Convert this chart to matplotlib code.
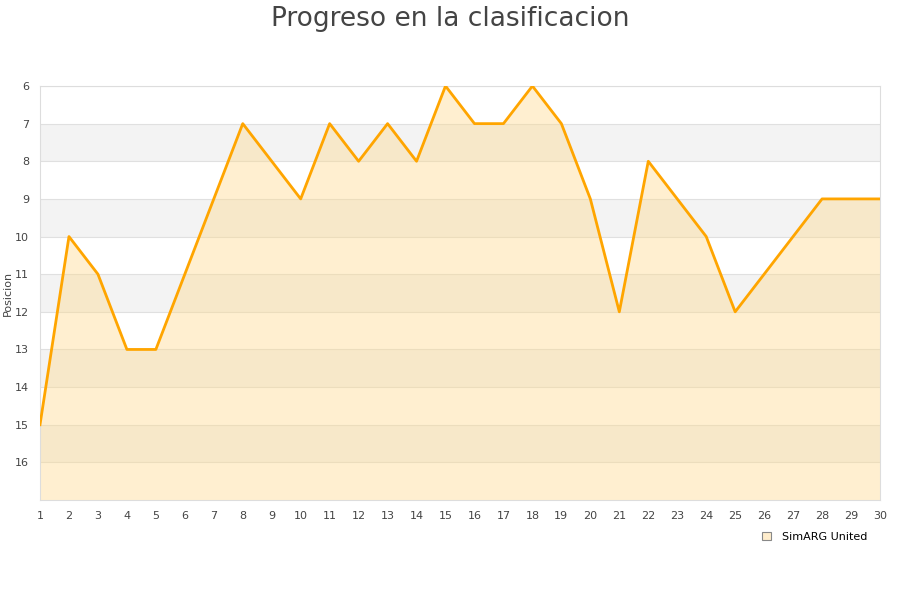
import numpy as np
import matplotlib.pyplot as plt
from matplotlib.patches import Patch

jornadas = list(range(1, 31))
posicion = [15, 10, 11, 13, 13, 11, 9, 7, 8, 9, 7, 8, 7, 8, 6,
            7, 7, 6, 7, 9, 12, 8, 9, 10, 12, 11, 10, 9, 9, 9]
equipo = "SimARG United"

fig = plt.figure(figsize=(9, 6), dpi=100)
ax = fig.add_axes([40/900, 1-500/600, 840/900, 414/600])

# bandas alternas
for y0 in range(7, 17, 2):
    ax.axhspan(y0, y0 + 1, color="#f3f3f3", zorder=0, lw=0)
for y in range(6, 17):
    ax.axhline(y, color="#e0e0e0", lw=0.8, zorder=1)

ax.fill_between(jornadas, posicion, 17, color="#ffd98a", alpha=0.4, lw=0, zorder=2)
ax.plot(jornadas, posicion, color="#ffa500", lw=2, zorder=3)

ax.set_xlim(1, 30)
ax.set_ylim(17, 6)
ax.set_xticks(jornadas)
ax.set_yticks(range(6, 17))
ax.tick_params(length=0, labelsize=8, colors="#444444", pad=8)
ax.tick_params(axis="y", pad=8)
for s in ax.spines.values():
    s.set_color("#dddddd")
ax.set_ylabel("Posicion", fontsize=8, color="#444444", labelpad=1)

fig.suptitle("Progreso en la clasificacion", fontsize=19, color="#444444", y=0.99)

h = [Patch(facecolor="#ffedcc", edgecolor="#888888", lw=0.8)]
fig.legend(h, [equipo], loc="center", bbox_to_anchor=(0.905, 0.105), frameon=False,
           fontsize=8, handlelength=0.8, handleheight=0.8, handletextpad=1.0)

fig.savefig("out.png")
